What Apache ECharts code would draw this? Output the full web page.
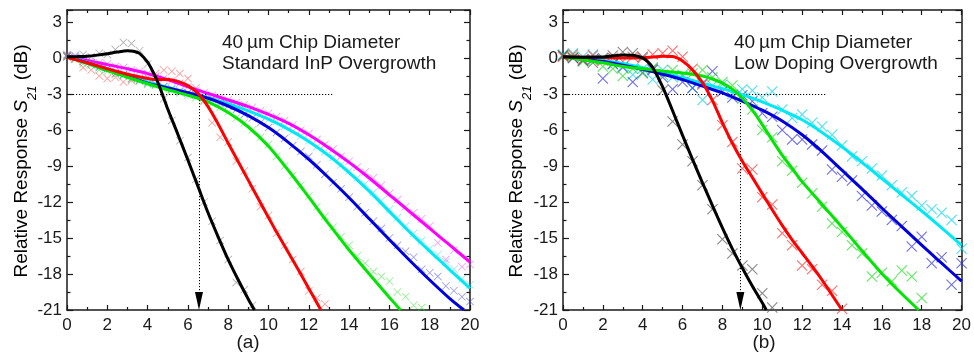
<!DOCTYPE html>
<html><head><meta charset="utf-8">
<script src="https://cdn.jsdelivr.net/npm/echarts@6/dist/echarts.min.js"></script>
<style>html,body{margin:0;padding:0;background:#fff}#c{width:974px;height:359px}</style>
</head><body><div id="c"></div>
<script>
// ---------- fitted curves (frequency GHz, response dB) ----------
const fitBlackA   = [[0,0.1],[0.5,0.12],[1,0.15],[1.5,0.24],[2,0.36],[2.5,0.5],[3,0.6],[3.3,0.57],[3.6,0.38],[4,-0.35],[4.25,-1.1],[4.5,-2.0],[4.75,-3.1],[5,-4.25],[5.5,-6.35],[6,-8.5],[6.5,-10.7],[7,-12.9],[7.5,-14.9],[8,-16.8],[8.5,-18.5],[9,-20.1],[9.3,-21]];
const fitRedA     = [[0,0.05],[1,-0.4],[2,-0.9],[3,-1.35],[4,-1.7],[4.5,-1.8],[5,-1.8],[5.5,-1.95],[6,-2.3],[6.5,-2.95],[7,-4.05],[7.5,-5.5],[8,-7.1],[8.5,-8.65],[9,-10.2],[9.5,-11.75],[10,-13.3],[10.5,-14.8],[11,-16.25],[11.5,-17.7],[12,-19.2],[12.6,-21]];
const fitGreenA   = [[0,0.1],[1,-0.45],[2,-1.05],[3,-1.6],[4,-2.15],[5,-2.65],[6,-3.1],[7,-3.65],[8,-4.55],[9,-5.75],[10,-7.35],[11,-9.4],[12,-11.6],[13,-13.85],[14,-16.0],[15,-18.0],[16,-19.95],[16.55,-21]];
const fitBlueA    = [[0,0.1],[1,-0.4],[2,-1.0],[3,-1.55],[4,-2.1],[5,-2.5],[6,-2.9],[7,-3.35],[8,-4.0],[9,-4.8],[10,-5.8],[11,-7.05],[12,-8.45],[13,-10.0],[14,-11.65],[15,-13.4],[16,-15.15],[17,-16.85],[18,-18.5],[19,-20.05],[19.7,-21]];
const fitCyanA    = [[0,0.15],[1,-0.35],[2,-0.9],[3,-1.45],[4,-2.0],[5,-2.45],[6,-2.9],[7,-3.3],[8,-3.8],[9,-4.4],[10,-5.1],[11,-5.95],[12,-6.95],[13,-8.15],[14,-9.55],[15,-11.1],[16,-12.8],[17,-14.5],[18,-16.1],[19,-17.65],[20,-19.2]];
const fitMagentaA = [[0,0.2],[1,-0.2],[2,-0.55],[3,-0.9],[4,-1.3],[5,-1.8],[6,-2.4],[7,-2.95],[8,-3.5],[9,-4.05],[10,-4.7],[11,-5.45],[12,-6.4],[13,-7.5],[14,-8.7],[15,-10.0],[16,-11.4],[17,-12.8],[18,-14.2],[19,-15.6],[20,-17.0]];

const fitBlackB = [[0,0.1],[1,0.07],[2,0.08],[2.5,0.18],[3,0.25],[3.5,0.22],[4,0.0],[4.25,-0.3],[4.5,-0.8],[5,-2.4],[5.5,-4.4],[6,-6.45],[6.5,-8.45],[7,-10.4],[7.5,-12.3],[8,-14.15],[8.5,-15.9],[9,-17.5],[9.5,-19.0],[10,-20.4],[10.2,-21]];
const fitRedB   = [[0,0.1],[1,0.07],[2,0.05],[3,0.0],[4,0.02],[4.5,0.08],[5,0.15],[5.5,0.12],[6,-0.25],[6.5,-1.0],[7,-2.05],[7.5,-3.55],[8,-5.4],[8.5,-7.1],[9,-8.6],[9.5,-9.95],[10,-11.3],[10.5,-12.65],[11,-13.95],[11.5,-15.15],[12,-16.25],[12.5,-17.35],[13,-18.5],[13.5,-19.75],[14,-21]];
const fitGreenB = [[0,0.1],[1,-0.15],[2,-0.4],[3,-0.7],[4,-0.9],[5,-1.1],[6,-1.25],[7,-1.5],[7.5,-1.75],[8,-2.1],[8.5,-2.6],[9,-3.35],[9.5,-4.35],[10,-5.55],[10.5,-6.85],[11,-8.1],[11.5,-9.2],[12,-10.3],[13,-12.2],[14,-14.1],[15,-16.05],[16,-17.95],[17,-19.65],[17.85,-21]];
const fitBlueB  = [[0,0.1],[1,-0.1],[2,-0.3],[3,-0.6],[4,-0.95],[5,-1.35],[6,-1.8],[7,-2.35],[8,-2.9],[9,-3.6],[10,-4.35],[11,-5.25],[12,-6.4],[13,-7.8],[14,-9.35],[15,-10.9],[16,-12.5],[17,-14.05],[18,-15.6],[19,-17.1],[20,-18.6]];
const fitCyanB  = [[0,0.15],[1,0.0],[2,-0.2],[3,-0.45],[4,-0.8],[5,-1.2],[6,-1.65],[7,-2.1],[8,-2.55],[9,-3.05],[10,-3.65],[11,-4.35],[12,-5.15],[13,-6.2],[14,-7.4],[15,-8.7],[16,-10.05],[17,-11.4],[18,-12.75],[19,-14.15],[20,-15.6]];

// ---------- measured points ----------
const freqA = [0,0.4,0.8,1.2,1.6,2,2.4,2.8,3.2,3.6,4,4.4,4.8,5.2,5.6,6,6.4,6.8,7.2,7.6,8,8.4,8.8,9.2,9.6,10,10.4,10.8,11.2,11.6,12,12.4,12.8,13.2,13.6,14,14.4,14.8,15.2,15.6,16,16.4,16.8,17.2,17.6,18,18.4,18.8,19.2,19.6,20];
const ptsBlackA   = [0.2,0.0,0.3,0.1,0.4,0.3,0.7,1.3,1.2,0.6,-0.5,-1.6,-3.4,-5.2,-6.9,-8.3,-10.1,-12.0,-13.6,-15.2,-16.8,-18.7,-19.3,-20.6];
const ptsRedA     = [0.1,-0.1,-0.8,-1.0,-1.5,-1.7,-1.6,-2.0,-1.9,-1.7,-1.6,-1.3,-1.0,-1.1,-1.3,-1.7,-2.5,-3.6,-5.4,-6.6,-7.0,-8.6,-9.4,-10.9,-12.4,-13.1,-14.6,-15.6,-16.8,-17.8,-19.4,-20.0,-20.5];
const ptsGreenA   = [0.2,-0.1,-0.5,-0.6,-1.0,-1.1,-1.4,-1.5,-1.8,-1.9,-2.2,-2.3,-2.6,-2.7,-2.9,-3.1,-3.3,-3.5,-3.8,-4.1,-4.5,-5.0,-5.4,-6.0,-6.6,-7.2,-8.2,-9.0,-9.8,-10.6,-11.5,-12.4,-13.2,-14.1,-14.9,-15.6,-16.5,-17.1,-17.8,-18.2,-18.6,-19.5,-19.9,-20.6,-20.8];
const ptsBlueA    = [0.1,0.2,-0.3,-0.4,-0.8,-0.9,-1.3,-1.4,-1.7,-1.9,-2.1,-2.2,-2.4,-2.6,-2.8,-2.9,-3.1,-3.3,-3.4,-3.8,-4.0,-4.3,-4.7,-5.0,-5.4,-5.8,-6.2,-6.7,-7.3,-7.8,-8.2,-8.9,-9.7,-10.4,-10.9,-11.6,-12.4,-12.9,-13.6,-14.2,-15.0,-15.6,-16.1,-16.6,-17.6,-17.9,-18.2,-19.0,-19.4,-19.9,-20.3];
const ptsCyanA    = [0.2,0.0,-0.2,-0.5,-0.7,-0.9,-1.1,-1.4,-1.5,-1.8,-2.0,-2.1,-2.4,-2.5,-2.7,-2.9,-3.0,-3.2,-3.4,-3.6,-3.8,-4.0,-4.2,-4.5,-4.7,-5.1,-5.3,-5.7,-6.1,-6.5,-6.9,-7.4,-7.8,-8.3,-8.9,-9.4,-10.0,-10.5,-11.2,-11.9,-12.6,-13.3,-14.0,-14.6,-15.2,-15.9,-16.4,-17.0,-17.6,-18.4,-18.9];
const ptsMagentaA = [0.3,0.1,0.0,-0.2,-0.4,-0.5,-0.7,-0.8,-1.0,-1.1,-1.3,-1.5,-1.7,-1.9,-2.1,-2.4,-2.7,-2.9,-3.1,-3.3,-3.5,-3.7,-3.9,-4.1,-4.4,-4.6,-4.9,-5.2,-5.6,-6.0,-6.3,-6.8,-7.2,-7.6,-8.2,-8.6,-9.1,-9.5,-10.0,-10.6,-11.3,-11.8,-12.4,-12.9,-13.4,-14.0,-15.4,-16.8,-16.0,-17.4,-17.2];

const freqB = [0,0.5,1,1.5,2,2.5,3,3.5,4,4.5,5,5.5,6,6.5,7,7.5,8,8.5,9,9.5,10,10.5,11,11.5,12,12.5,13,13.5,14,14.5,15,15.5,16,16.5,17,17.5,18,18.5,19,19.5,20];
const ptsBlackB = [0.2,0.0,-0.2,-0.4,0.0,0.2,0.5,0.4,0.1,-0.9,-2.7,-5.3,-7.2,-8.6,-10.6,-12.6,-15.1,-16.3,-17.3,-17.6,-19.6,-20.8];
const ptsRedB   = [0.1,0.3,-0.1,0.2,-0.2,0.0,-0.3,0.1,0.0,0.3,0.4,0.6,0.1,-0.9,-2.2,-3.5,-5.6,-7.0,-9.2,-9.3,-11.6,-12.2,-14.6,-15.6,-17.3,-17.6,-18.9,-19.4,-20.9];
const ptsGreenB = [0.2,0.1,-0.3,-0.2,-0.7,-0.9,-1.5,-0.9,-1.3,-0.8,-1.4,-1.0,-1.5,-1.3,-1.0,-1.6,-2.0,-2.3,-3.4,-4.3,-6.0,-6.6,-8.6,-9.4,-10.4,-11.3,-12.4,-13.8,-14.5,-15.6,-16.3,-18.2,-17.9,-18.6,-17.7,-18.2,-20.0];
const ptsBlueB  = [0.2,0.0,-0.2,-0.1,-1.7,-0.5,-0.8,-2.0,-1.2,-1.0,-1.6,-2.6,-2.0,-2.5,-2.1,-1.1,-2.8,-3.3,-3.1,-3.6,-4.6,-4.9,-6.0,-6.8,-6.8,-7.2,-7.7,-9.3,-9.9,-10.2,-11.5,-12.3,-12.8,-13.5,-14.0,-15.7,-14.9,-17.1,-16.6,-18.9,-17.1];
const ptsCyanB  = [0.3,0.4,0.1,0.3,-0.1,-0.5,-0.7,-1.4,-0.9,-1.8,-1.0,-1.6,-1.4,-2.5,-3.5,-2.3,-2.2,-3.0,-2.6,-2.7,-3.3,-2.8,-4.3,-5.0,-4.7,-5.4,-5.7,-6.4,-7.3,-8.2,-8.6,-9.2,-9.8,-10.6,-11.2,-11.5,-12.3,-12.6,-12.9,-13.5,-15.9];

// ---------- -3 dB guide values ----------
const level3dB = -3;
const guideEnd = 13.2;
const cutoffA = 6.55;
const cutoffB = 8.9;

// ---------- axis ticks ----------
const xTicks = [0,2,4,6,8,10,12,14,16,18,20];
const yTicks = [-21,-18,-15,-12,-9,-6,-3,0,3];

const FONT = 'Liberation Sans, Arial, Helvetica, sans-serif';
const C = {black:'#000000', red:'#ff0000', green:'#00e600', blue:'#0000dd', cyan:'#00e8f4', magenta:'#ff00ff'};
const P = {black:'#606060', red:'#ff3030', green:'#20dd20', blue:'#3030e0', cyan:'#10d8f0', magenta:'#f030f0'};
const XPATH = 'path://M0.7,0L5,4.3L9.3,0L10,0.7L5.7,5L10,9.3L9.3,10L5,5.7L0.7,10L0,9.3L4.3,5L0,0.7Z';

function pairs(xs, ys){ const out=[]; for(let i=0;i<ys.length;i++){ if(ys[i]!=null) out.push([xs[i], ys[i]]); } return out; }

const chart = echarts.init(document.getElementById('c'), null, {renderer:'canvas'});

function xAx(grid, pos, labels){
  return {type:'value', gridIndex:grid, position:pos, min:0, max:20, interval:2,
    axisLine:{show:true, onZero:false, lineStyle:{color:'#1a1a1a', width:1.5}},
    axisTick:{show:true, inside:true, length:5, lineStyle:{color:'#1a1a1a', width:1.2}},
    minorTick:{show:true, splitNumber:2, length:3, lineStyle:{color:'#1a1a1a', width:1.2}},
    splitLine:{show:false}, minorSplitLine:{show:false},
    axisLabel:{show:labels, margin:7, fontSize:17, color:'#1a1a1a', fontFamily:FONT,
      formatter:(v)=> xTicks.indexOf(v)>=0 ? String(v) : ''}};
}
function yAx(grid, pos, labels){
  return {type:'value', gridIndex:grid, position:pos, min:-21, max:4, interval:3,
    axisLine:{show:true, onZero:false, lineStyle:{color:'#1a1a1a', width:1.5}},
    axisTick:{show:true, inside:true, length:6, lineStyle:{color:'#1a1a1a', width:1.2}},
    minorTick:{show:true, splitNumber:2, length:3.5, lineStyle:{color:'#1a1a1a', width:1.2}},
    splitLine:{show:false}, minorSplitLine:{show:false},
    axisLabel:{show:labels, margin:5, fontSize:17, color:'#1a1a1a', fontFamily:FONT,
      formatter:(v)=> yTicks.indexOf(v)>=0 ? String(v) : ''}};
}

function fit(data, color, xi, yi, extra){
  return Object.assign({type:'line', data:data, xAxisIndex:xi, yAxisIndex:yi, smooth:0.3, showSymbol:false, symbol:'none',
    clip:true, lineStyle:{color:color, width:3}, z:5, silent:true}, extra||{});
}
function pts(xs, ys, color, xi, yi, size, op){
  return {type:'scatter', data:pairs(xs, ys), xAxisIndex:xi, yAxisIndex:yi, symbol:XPATH, symbolSize:size,
    itemStyle:{color:color, opacity:op}, clip:true, z:3, silent:true};
}
function guide(cut){
  return {silent:true, animation:false, label:{show:false}, symbol:'none',
    lineStyle:{color:'#000', width:1, type:[1.2,1.8]},
    data:[
      [{coord:[0, level3dB]}, {coord:[guideEnd, level3dB]}],
      [{coord:[cut, level3dB]}, {coord:[cut, -20.25], symbol:'triangle', symbolSize:[8,18]}]
    ]};
}

const rich = {
  n:{fontSize:19, fontFamily:FONT, color:'#1a1a1a'},
  i:{fontSize:19, fontFamily:FONT, fontStyle:'italic', color:'#1a1a1a'},
  s:{fontSize:13, fontFamily:FONT, fontStyle:'italic', color:'#1a1a1a', verticalAlign:'bottom', padding:[0,0,-7,0]}
};
function yTitle(x){
  return {type:'text', x:x, y:161, rotation:Math.PI/2,
    style:{text:'{n|Relative Response }{i|S}{s|21}{n| (dB)}', rich:rich, align:'center', verticalAlign:'middle'}};
}
function note(x, y, txt){
  return {type:'text', x:x, y:y, style:{text:txt, fontSize:19, fontFamily:FONT, fill:'#1a1a1a', align:'left', verticalAlign:'middle'}};
}

const option = {
  animation:false,
  backgroundColor:'#ffffff',
  grid:[
    {left:67, top:10, width:403, height:300, containLabel:false},
    {left:563, top:10, width:402, height:300, containLabel:false}
  ],
  xAxis:[xAx(0,'bottom',true), xAx(0,'top',false), xAx(1,'bottom',true), xAx(1,'top',false)],
  yAxis:[yAx(0,'left',true), yAx(0,'right',false), yAx(1,'left',true), yAx(1,'right',false)],
  series:[
    pts(freqA, ptsMagentaA, P.magenta, 0,0, 8, 0.5),
    pts(freqA, ptsCyanA, P.cyan, 0,0, 8, 0.5),
    pts(freqA, ptsBlueA, P.blue, 0,0, 8, 0.5),
    pts(freqA, ptsGreenA, P.green, 0,0, 8, 0.5),
    pts(freqA, ptsRedA, P.red, 0,0, 8, 0.5),
    pts(freqA, ptsBlackA, P.black, 0,0, 8, 0.5),
    fit(fitMagentaA, C.magenta, 0,0),
    fit(fitCyanA, C.cyan, 0,0),
    fit(fitBlueA, C.blue, 0,0),
    fit(fitGreenA, C.green, 0,0),
    fit(fitRedA, C.red, 0,0),
    fit(fitBlackA, C.black, 0,0, {markLine:guide(cutoffA)}),

    pts(freqB, ptsCyanB, P.cyan, 2,2, 11, 0.75),
    pts(freqB, ptsBlueB, P.blue, 2,2, 11, 0.7),
    pts(freqB, ptsGreenB, P.green, 2,2, 11, 0.7),
    pts(freqB, ptsRedB, P.red, 2,2, 11, 0.7),
    pts(freqB, ptsBlackB, P.black, 2,2, 11, 0.75),
    fit(fitCyanB, C.cyan, 2,2),
    fit(fitBlueB, C.blue, 2,2),
    fit(fitGreenB, C.green, 2,2),
    fit(fitRedB, C.red, 2,2),
    fit(fitBlackB, C.black, 2,2, {markLine:guide(cutoffB)})
  ],
  graphic:[
    yTitle(22), yTitle(517),
    note(222, 43, '40\u2009µm Chip Diameter'),
    note(222, 64, 'Standard InP Overgrowth'),
    note(734, 43, '40\u2009µm Chip Diameter'),
    note(734, 64, 'Low Doping Overgrowth'),
    {type:'text', x:248, y:343, style:{text:'(a)', fontSize:19, fontFamily:FONT, fill:'#1a1a1a', align:'center', verticalAlign:'middle'}},
    {type:'text', x:764, y:343, style:{text:'(b)', fontSize:19, fontFamily:FONT, fill:'#1a1a1a', align:'center', verticalAlign:'middle'}}
  ]
};
chart.setOption(option);
</script></body></html>
